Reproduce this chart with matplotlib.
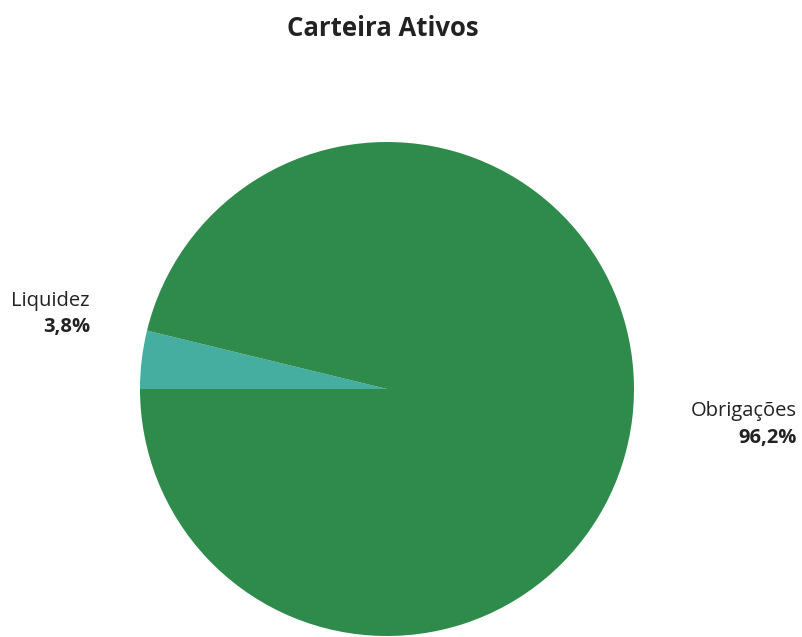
import matplotlib.pyplot as plt

categories = ['Liquidez', 'Obrigações']
values = [3.8, 96.2]
pct_labels = ['3,8%', '96,2%']
colors = ['#45aea0', '#2e8b4c']

plt.rcParams['font.family'] = ['Open Sans', 'DejaVu Sans']

W, H = 803, 637
fig = plt.figure(figsize=(W / 100, H / 100), dpi=100)
fig.patch.set_facecolor('white')

# pie centre (387, 389) px from top-left, radius 247 px
cx, cy, r = 387, 389, 247
ax = fig.add_axes([(cx - r) / W, (H - cy - r) / H, 2 * r / W, 2 * r / H])
ax.pie(values, colors=colors, startangle=180, counterclock=False,
       wedgeprops=dict(linewidth=0))
ax.set_xlim(-1, 1)
ax.set_ylim(-1, 1)
ax.set_aspect('equal')
ax.axis('off')

fig.text(383 / W, 1 - 28 / H, 'Carteira Ativos', ha='center', va='center',
         fontsize=18.5, fontweight='bold', color='#222222')

# labels
lab_pos = [(90, 301, 327), (797, 411, 438)]
for (x, y1, y2), name, pct in zip(lab_pos, categories, pct_labels):
    fig.text(x / W, 1 - y1 / H, name, ha='right', va='center',
             fontsize=14.5, color='#222222')
    fig.text(x / W, 1 - y2 / H, pct, ha='right', va='center',
             fontsize=14.5, fontweight='bold', color='#222222')

fig.savefig('out.png', dpi=100, facecolor='white')
